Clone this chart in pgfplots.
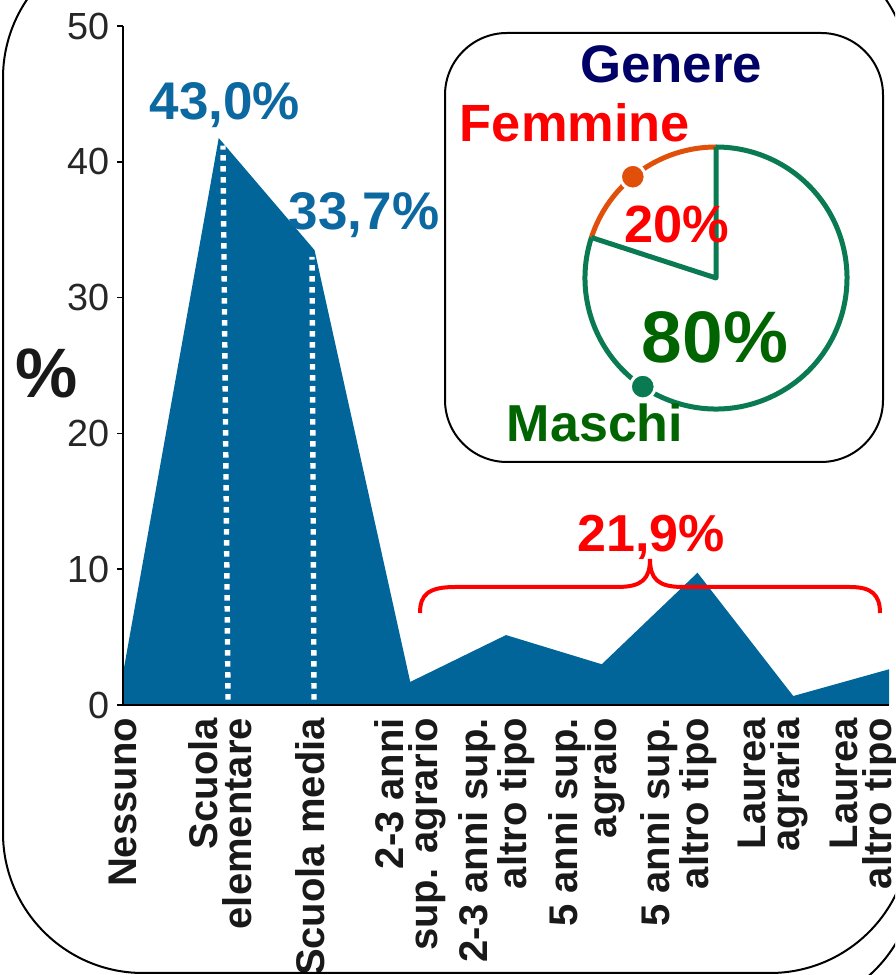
\documentclass[border=0pt]{standalone}
\usepackage{pgfplots}
\pgfplotsset{compat=1.18}
\usepackage{fontspec}
\setmainfont{Liberation Sans}

\definecolor{areablue}{RGB}{1,101,154}
\definecolor{labelblue}{RGB}{12,104,160}
\definecolor{navytxt}{RGB}{0,0,102}
\definecolor{pieorange}{RGB}{224,80,10}
\definecolor{piegreen}{RGB}{10,122,82}
\definecolor{darkgreentxt}{RGB}{0,100,0}

\begin{document}
\begin{tikzpicture}
\useasboundingbox (0pt,0pt) rectangle (447.5pt,487.5pt);
\clip (0pt,0pt) rectangle (447.5pt,487.5pt);

\begin{axis}[
  at={(61.5pt,135pt)}, anchor=south west,
  scale only axis, width=383pt, height=339.5pt,
  xmin=0, xmax=8, ymin=0, ymax=50,
  axis x line*=bottom, axis y line*=left,
  axis line style={line width=0.75pt},
  axis on top,
  ytick={0,10,...,50},
  % labels sit slightly left of the data points, as in the original
  xtick={0,1.02,1.96,3.0,3.9,4.84,5.8,6.79,7.75},
  xticklabels={Nessuno, {Scuola\\elementare}, Scuola media, {2-3 anni\\sup. agrario},
    {2-3 anni sup.\\altro tipo}, {5 anni sup.\\agraio}, {5 anni sup.\\altro tipo},
    {Laurea\\agraria}, {Laurea\\altro tipo}},
  x tick style={draw=none},
  y tick style={line width=0.75pt, black},
  tick align=outside, major tick length=3pt,
  xticklabel style={rotate=90, anchor=east, align=right,
    font=\bfseries\fontsize{20}{17}\selectfont, text=black!90},
  yticklabel style={font=\fontsize{18.9}{19}\selectfont, text=black!85},
  /pgf/number format/assume math mode=true,
]
\addplot[fill=areablue, draw=none] coordinates {
  (0,2.33) (1,41.75) (2,33.5) (3,1.7) (4,5.15)
  (5,3.0) (6,9.74) (7,0.66) (8,2.63)
} \closedcycle;
\draw[white, line width=2.7pt, dash pattern=on 2.7pt off 2.8pt]
  (axis cs:1.097,0.4) -- (axis cs:1.044,41.2);
\draw[white, line width=2.7pt, dash pattern=on 2.7pt off 2.8pt]
  (axis cs:1.995,0.4) -- (axis cs:1.974,33.0);
\draw[line width=0.75pt] (axis cs:0,0) -- ++(0pt,-6.5pt);
\end{axis}

\begin{scope}[x=0.5pt,y=0.5pt]
% outer frame (runs past the page edges)
\draw[line width=1pt, rounded corners=70pt] (3,2) rectangle (910,1037);
\draw[line width=1pt] (776,104) ++(-22:70pt) arc[start angle=-22, end angle=-62, radius=70pt];

% labels on the main chart
\node[anchor=base, text=labelblue, font=\bfseries\fontsize{26.5}{26.5}\selectfont] at (225,855) {43,0\%};
\node[anchor=base, text=labelblue, font=\bfseries\fontsize{26.5}{26.5}\selectfont] at (364,745) {33,7\%};
\node[anchor=base, text=black!90, font=\bfseries\fontsize{35}{35}\selectfont] at (47,577) {\%};

% brace over the upper secondary / degree groups
\draw[red, line width=2pt]
  (420,362) .. controls (420,380) and (428,388) .. (455,388) -- (617,388)
  .. controls (642,388) and (650,396) .. (650,416)
  .. controls (650,396) and (658,388) .. (683,388) -- (850,388)
  .. controls (872,388) and (880,380) .. (880,362);
\node[anchor=base, text=red, font=\bfseries\fontsize{26}{26}\selectfont] at (651,423) {21,9\%};

% inset
\draw[line width=1pt, rounded corners=31pt, fill=white] (445,513) rectangle (883,942);
\node[anchor=base, text=navytxt, font=\bfseries\fontsize{26.4}{26.4}\selectfont] at (671,892) {Genere};
\node[anchor=base, text=red, font=\bfseries\fontsize{26.2}{26.2}\selectfont] at (575,833) {Femmine};
\end{scope}

\begin{axis}[
  at={(358pt,348.5pt)}, anchor=center,
  scale only axis, width=131pt, height=131pt,
  xmin=-1, xmax=1, ymin=-1, ymax=1,
  hide axis, clip=false,
]
\draw[pieorange, line width=2.5pt] (axis cs:0,1) arc[start angle=90, end angle=162, radius=65.5pt];
\draw[piegreen, line width=2.5pt] (axis cs:-0.951,0.309) arc[start angle=162, end angle=450, radius=65.5pt];
\draw[piegreen, line width=2.5pt, line join=round] (axis cs:0,1) -- (axis cs:0,0) -- (axis cs:-0.951,0.309);
\addplot[only marks, mark=*, mark size=6.2pt, color=pieorange,
  mark options={draw=white, line width=1.5pt}] coordinates {(-0.635,0.773)};
\addplot[only marks, mark=*, mark size=6.2pt, color=piegreen,
  mark options={draw=white, line width=1.5pt}] coordinates {(-0.559,-0.829)};
\end{axis}

\begin{scope}[x=0.5pt,y=0.5pt]
\node[anchor=base, text=red, font=\bfseries\fontsize{26.2}{26.2}\selectfont] at (677,732) {20\%};
\node[anchor=base, text=darkgreentxt, font=\bfseries\fontsize{36.5}{36.5}\selectfont] at (715,612) {80\%};
\node[anchor=base, text=darkgreentxt, font=\bfseries\fontsize{26}{26}\selectfont] at (595,533) {Maschi};
\end{scope}
\end{tikzpicture}
\end{document}
